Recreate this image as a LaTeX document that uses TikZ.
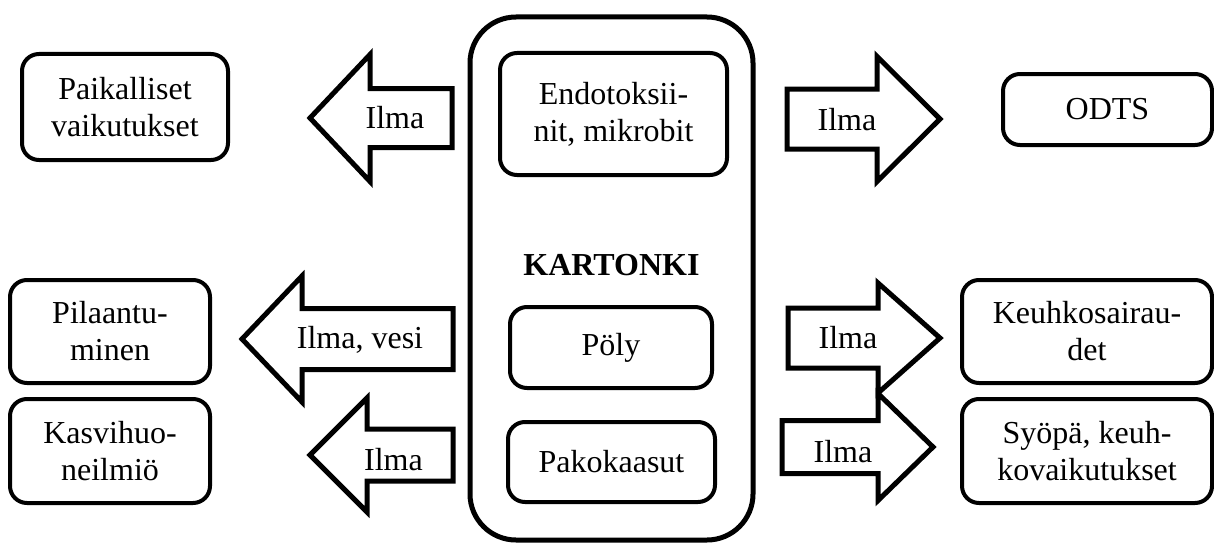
\documentclass[tikz,border=0pt]{standalone}
\usepackage{fontspec}
\setmainfont{Liberation Serif}
\begin{document}
% block arrow: #1 tail x, #2 head base x, #3 tip x, #4 centre y, #5 shaft half height, #6 head half height
\newcommand\blockarrow[6]{%
  \draw[flow] (#1,#4-#5) -- (#2,#4-#5) -- (#2,#4-#6) -- (#3,#4)
    -- (#2,#4+#6) -- (#2,#4+#5) -- (#1,#4+#5) -- cycle;}
\begin{tikzpicture}[x=1pt,y=-1pt,
  every node/.style={font=\fontsize{32}{37}\selectfont},
  box/.style={draw,line width=4pt,rounded corners=17pt,align=center,inner sep=0pt},
  flow/.style={draw,line width=5pt,miter limit=10,fill=white},
  lbl/.style={inner sep=0pt,anchor=base}]
\useasboundingbox (0,0) rectangle (1214,543);

% central container
\node[box,line width=5pt,rounded corners=46pt,minimum width=283pt,minimum height=523pt] (kart) at (611.5,278.5) {};
\node[lbl,font=\fontsize{32}{37}\selectfont\bfseries] (ktxt) at (611.5,275) {KARTONKI};

% sources inside the container
\node[box,minimum width=227pt,minimum height=122pt] (endo) at (613.5,114) {Endotoksii-\\nit, mikrobit};
\node[box,minimum width=202pt,minimum height=81pt] (poly) at (611,347.5) {Pöly};
\node[box,minimum width=207pt,minimum height=80pt] (pako) at (611.5,462) {Pakokaasut};

% effects on the left
\node[box,minimum width=206pt,minimum height=106pt] (paik) at (125,107) {Paikalliset\\vaikutukset};
\node[box,minimum width=200pt,minimum height=103pt] (pila) at (110,331.5) {Pilaantu-\\minen};
\node[box,minimum width=200pt,minimum height=104pt] (kasv) at (110,451) {Kasvihuo-\\neilmiö};

% effects on the right
\node[box,minimum width=209pt,minimum height=71pt] (odts) at (1107.5,109.5) {ODTS};
\node[box,minimum width=250pt,minimum height=103pt] (keuh) at (1087,331.5) {Keuhkosairau-\\det};
\node[box,minimum width=250pt,minimum height=104pt] (syop) at (1087,451) {Syöpä, keuh-\\kovaikutukset};

% transport arrows
\blockarrow{452}{370}{310}{118}{29.5}{63.5}
\blockarrow{453}{302}{242}{339}{30.5}{63}
\blockarrow{453}{367}{310}{455}{26}{57}
\blockarrow{787}{877}{940}{119}{30}{62.5}
\blockarrow{788}{878}{940}{338}{30}{55}
\blockarrow{782}{878}{933}{447}{26.5}{53.5}

% arrow labels
\node[lbl] (a1) at (395,128) {Ilma};
\node[lbl] (a2) at (360,348) {Ilma, vesi};
\node[lbl] (a3) at (393.5,470) {Ilma};
\node[lbl] (a4) at (847,130) {Ilma};
\node[lbl] (a5) at (848,348) {Ilma};
\node[lbl] (a6) at (843,462) {Ilma};
\end{tikzpicture}
\end{document}
